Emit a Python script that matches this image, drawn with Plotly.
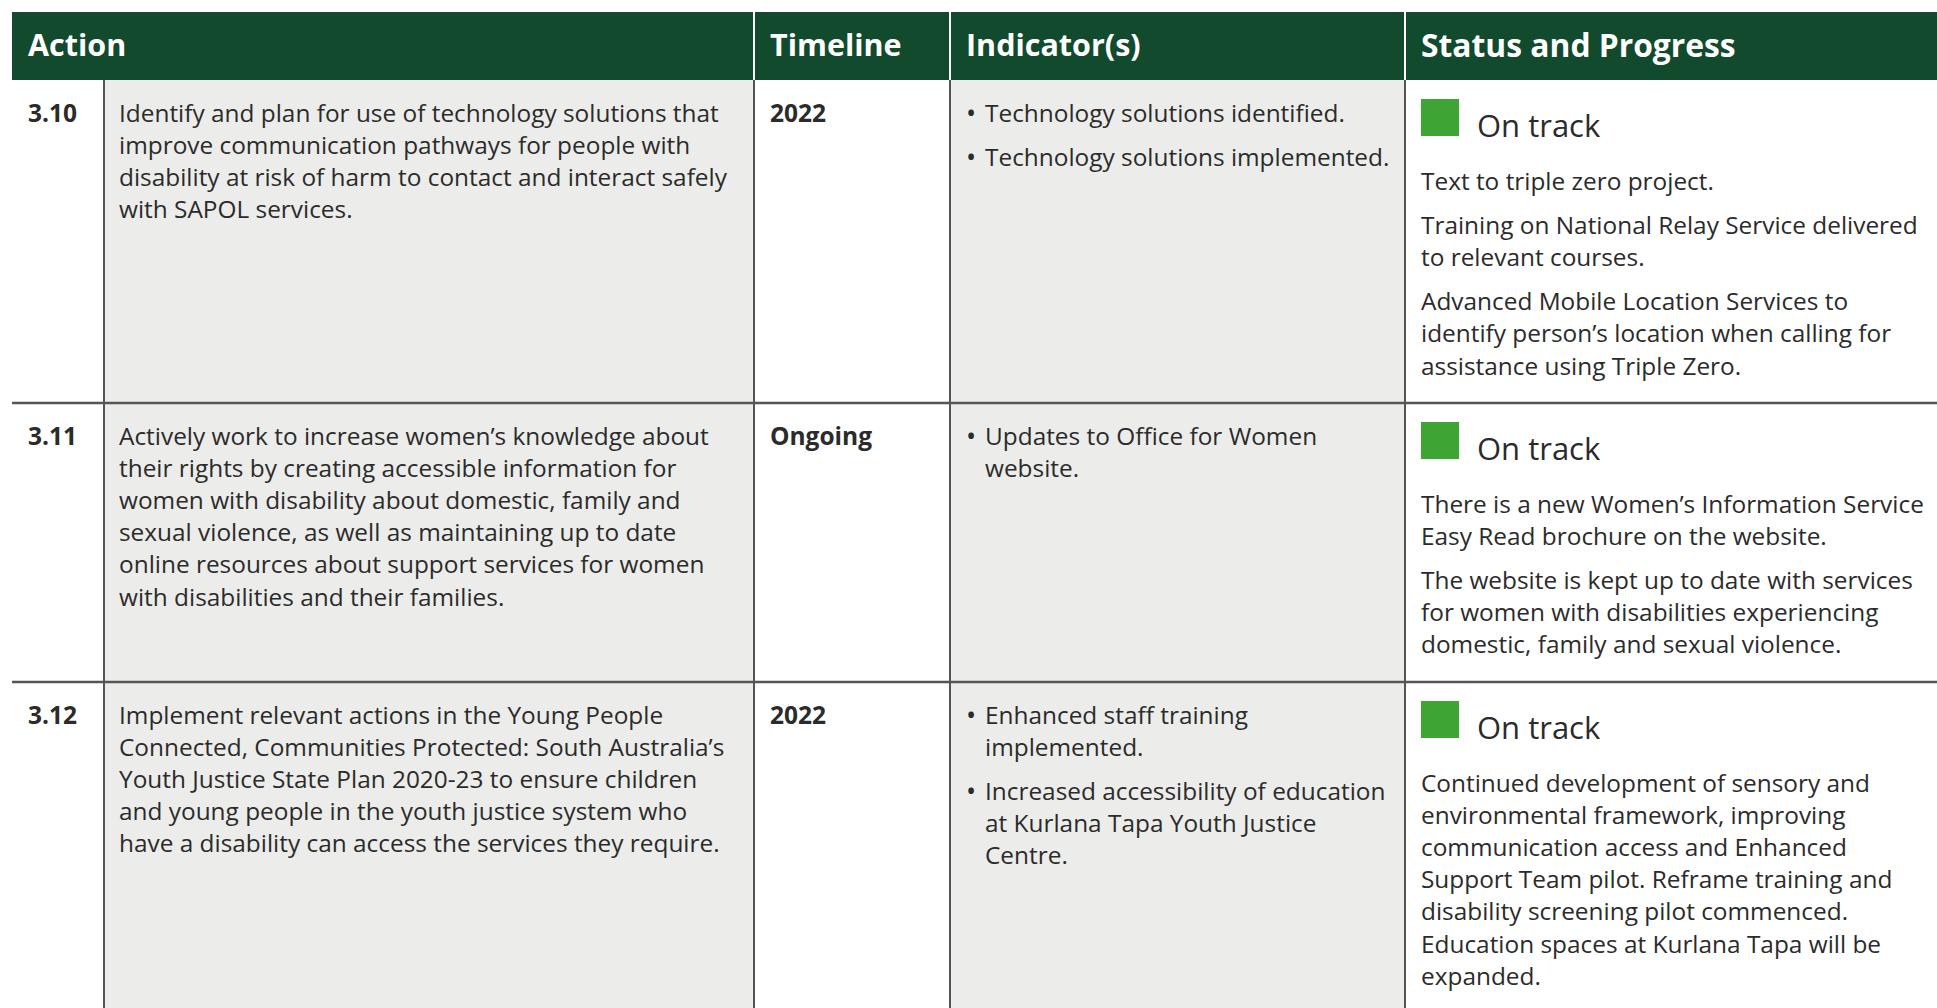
import plotly.graph_objects as go

# ---------------- data ----------------
headers = ["Action", "Timeline", "Indicator(s)", "Status and Progress"]
numbers = ["3.10", "3.11", "3.12"]
actions = [
    ["Identify and plan for use of technology solutions that",
     "improve communication pathways for people with",
     "disability at risk of harm to contact and interact safely",
     "with SAPOL services."],
    ["Actively work to increase women’s knowledge about",
     "their rights by creating accessible information for",
     "women with disability about domestic, family and",
     "sexual violence, as well as maintaining up to date",
     "online resources about support services for women",
     "with disabilities and their families."],
    ["Implement relevant actions in the Young People",
     "Connected, Communities Protected: South Australia’s",
     "Youth Justice State Plan 2020-23 to ensure children",
     "and young people in the youth justice system who",
     "have a disability can access the services they require."],
]
timelines = ["2022", "Ongoing", "2022"]
indicators = [
    [["Technology solutions identified."], ["Technology solutions implemented."]],
    [["Updates to Office for Women", "website."]],
    [["Enhanced staff training", "implemented."],
     ["Increased accessibility of education", "at Kurlana Tapa Youth Justice", "Centre."]],
]
statuses = ["On track", "On track", "On track"]
progress = [
    [["Text to triple zero project."],
     ["Training on National Relay Service delivered", "to relevant courses."],
     ["Advanced Mobile Location Services to", "identify person’s location when calling for",
      "assistance using Triple Zero."]],
    [["There is a new Women’s Information Service", "Easy Read brochure on the website."],
     ["The website is kept up to date with services", "for women with disabilities experiencing",
      "domestic, family and sexual violence."]],
    [["Continued development of sensory and", "environmental framework, improving",
      "communication access and Enhanced", "Support Team pilot. Reframe training and",
      "disability screening pilot commenced.", "Education spaces at Kurlana Tapa will be",
      "expanded."]],
]

# ---------------- layout constants ----------------
W, H = 1937, 1008
LEFT, RIGHT = 12, 1937
HEAD_TOP, HEAD_BOT = 12, 80
COLS = [12, 104, 754, 950, 1405, 1937]
ROWS = [80, 403, 682, 1008]
LINE = 32.2
PARA = 12
GREEN_DARK = "#124A2D"
GREEN = "#3EA535"
GREY = "#ECEDEA"
BORDER = "#555555"
TXT = "#2B2B2B"
FONT = "Open Sans"
FS = 24.4
HEAD_FS = [30.5, 30.5, 30.5, 31.8]

shapes = []
annotations = []

# header background
shapes.append(dict(type="rect", x0=LEFT, x1=RIGHT, y0=HEAD_TOP, y1=HEAD_BOT,
                   fillcolor=GREEN_DARK, line=dict(width=0), layer="below"))
# grey columns
for c0, c1 in [(COLS[1], COLS[2]), (COLS[3], COLS[4])]:
    shapes.append(dict(type="rect", x0=c0, x1=c1, y0=HEAD_BOT, y1=H,
                       fillcolor=GREY, line=dict(width=0), layer="below"))
# header separators (white)
for cx in COLS[2:5]:
    shapes.append(dict(type="line", x0=cx, x1=cx, y0=HEAD_TOP, y1=HEAD_BOT,
                       line=dict(color="white", width=2)))
# body verticals
for cx in COLS[1:5]:
    shapes.append(dict(type="line", x0=cx, x1=cx, y0=HEAD_BOT, y1=H,
                       line=dict(color=BORDER, width=2)))
# row separators
for ry in ROWS[1:3]:
    shapes.append(dict(type="line", x0=LEFT, x1=RIGHT, y0=ry, y1=ry,
                       line=dict(color=BORDER, width=2.5)))


def txt(x, y, s, size=FS, color=TXT, bold=False):
    annotations.append(dict(x=x, y=y, xref="x", yref="y", text=f"<b>{s}</b>" if bold else s,
                            showarrow=False, xanchor="left", yanchor="middle",
                            font=dict(family=FONT, size=size, color=color)))


# headers
head_x = [26, 768, 964, 1419]
for hx, h, hs in zip(head_x, headers, HEAD_FS):
    txt(hx, 44, h, size=hs, color="white", bold=True)

for i in range(3):
    top = ROWS[i]
    y0 = top + 32
    txt(26, y0, numbers[i], size=24.5, bold=True)
    for k, line in enumerate(actions[i]):
        txt(117, y0 + k * LINE, line)
    txt(768, y0, timelines[i], size=24.5, bold=True)
    y = y0
    for para in indicators[i]:
        txt(964, y, "•", size=27)
        for line in para:
            txt(983, y, line)
            y += LINE
        y += PARA
    # status
    shapes.append(dict(type="rect", x0=1421, x1=1459, y0=top + 19, y1=top + 56,
                       fillcolor=GREEN, line=dict(width=0)))
    txt(1475, top + 45, statuses[i], size=31)
    y = top + 100
    for para in progress[i]:
        for line in para:
            txt(1419, y, line)
            y += LINE
        y += PARA

fig = go.Figure()
fig.update_layout(
    width=W, height=H, margin=dict(l=0, r=0, t=0, b=0),
    paper_bgcolor="white", plot_bgcolor="white",
    xaxis=dict(range=[0, W], visible=False, fixedrange=True),
    yaxis=dict(range=[H, 0], visible=False, fixedrange=True),
    shapes=shapes, annotations=annotations, showlegend=False,
)
fig.write_html("out.html", post_script="document.body.style.margin='0';document.body.style.overflow='hidden';",
               config={"displayModeBar": False})
